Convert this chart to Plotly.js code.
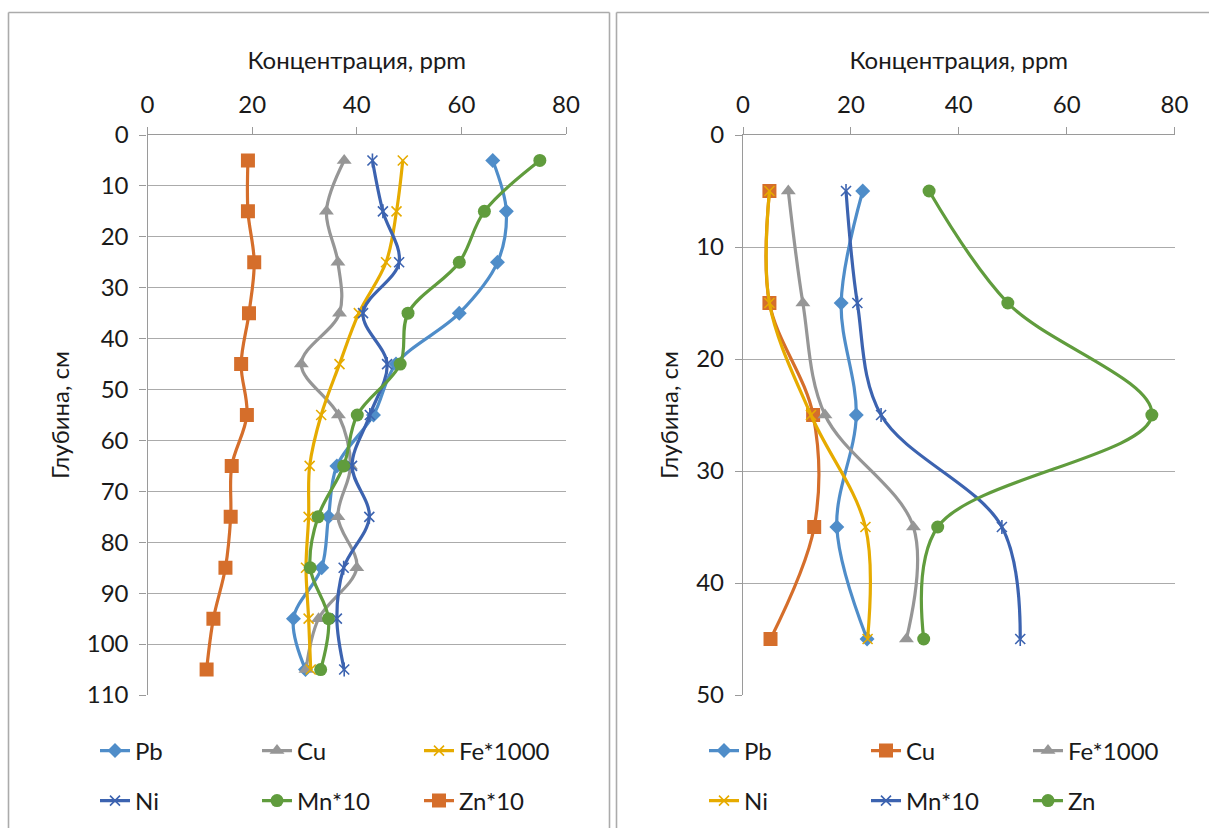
<!DOCTYPE html>
<html>
<head>
<meta charset="utf-8">
<script src="https://cdn.plot.ly/plotly-3.0.1.min.js"></script>
<style>
  html, body { margin: 0; padding: 0; background: #fff; }
  #chart { width: 1209px; height: 828px; }
</style>
</head>
<body>
<div id="chart"></div>
<script>
// ---- Профиль 1: глубина 5–105 см ----
const depthA = [5, 15, 25, 35, 45, 55, 65, 75, 85, 95, 105];
const pbA   = [66.0, 68.6, 66.9, 59.6, 47.5, 43.2, 36.2, 34.6, 33.3, 27.9, 30.2];
const cuA   = [37.6, 34.2, 36.4, 36.7, 29.4, 36.5, 38.8, 36.4, 40.0, 32.7, 30.3];
const feA   = [48.8, 47.6, 45.6, 40.4, 36.7, 33.2, 31.0, 30.8, 30.3, 30.8, 31.2];
const niA   = [43.0, 45.0, 48.1, 41.2, 45.8, 42.5, 39.1, 42.4, 37.5, 36.2, 37.6];
const mnA   = [75.0, 64.4, 59.6, 49.8, 48.3, 40.1, 37.5, 32.6, 31.1, 34.6, 33.1];
const znA   = [19.2, 19.2, 20.4, 19.4, 17.9, 19.0, 16.1, 15.9, 14.9, 12.6, 11.3];
const namesA = ['Pb', 'Cu', 'Fe*1000', 'Ni', 'Mn*10', 'Zn*10'];

// ---- Профиль 2: глубина 5–45 см ----
const depthB = [5, 15, 25, 35, 45];
const pbB   = [22.2, 18.2, 21.0, 17.4, 23.0];
const cuB   = [4.9, 4.9, 13.0, 13.2, 5.1];
const feB   = [8.4, 11.1, 15.2, 31.6, 30.3];
const niB   = [4.9, 4.9, 12.6, 22.7, 23.1];
const mnB   = [19.1, 21.2, 25.6, 48.0, 51.4];
const znB   = [34.5, 49.1, 75.8, 36.1, 33.5];
const namesB = ['Pb', 'Cu', 'Fe*1000', 'Ni', 'Mn*10', 'Zn'];

const xTitle = 'Концентрация, ppm';
const yTitle = 'Глубина, см';

// ---- styling ----
const W = 1209, H = 828;
const fx = p => p / W;
const fy = p => 1 - p / H;
const FONT = 'Lato, "Open Sans", sans-serif';
const TXT = '#1a1a1a';
const GRID = '#ababab';
const AXIS = '#9a9a9a';

const C = {
  blue:  '#4f8dc9',
  orange:'#d56e2b',
  gray:  '#969696',
  gold:  '#e6ab00',
  navy:  '#3c63b0',
  green: '#609c3d'
};

const STY = {
  diamond:  { symbol: 'diamond',  size: 11.5 },
  square:   { symbol: 'square',   size: 14 },
  triangle: { symbol: 'triangle-up', size: 13 },
  circle:   { symbol: 'circle',   size: 13 },
  cross:    { symbol: 'x-thin-open', size: 10, line: { width: 1.6 } },
  star:     { symbol: 'x-thin-open', size: 10, line: { width: 1.6 } }
};

function series(x, y, name, color, mk, xa, ya, legend) {
  const marker = Object.assign({ color: color }, JSON.parse(JSON.stringify(mk)));
  if (marker.line) marker.line.color = color;
  return {
    type: 'scatter', mode: 'lines+markers',
    x: x, y: y, name: name, xaxis: xa, yaxis: ya, legend: legend,
    line: { color: color, width: 3.2, shape: 'spline', smoothing: 1 },
    marker: marker,
    hoverinfo: 'x+y+name'
  };
}

// vertical stroke completing the six-armed star marker
function starStem(x, y, color, xa, ya) {
  return {
    type: 'scatter', mode: 'markers', x: x, y: y, xaxis: xa, yaxis: ya,
    showlegend: false, hoverinfo: 'skip',
    marker: { symbol: 'line-ns-open', size: 10, color: color, line: { color: color, width: 1.6 } }
  };
}

const traces = [
  series(pbA, depthA, namesA[0], C.blue,   STY.diamond,  'x', 'y', 'legend'),
  series(cuA, depthA, namesA[1], C.gray,   STY.triangle, 'x', 'y', 'legend'),
  series(feA, depthA, namesA[2], C.gold,   STY.cross,    'x', 'y', 'legend'),
  series(niA, depthA, namesA[3], C.navy,   STY.star,     'x', 'y', 'legend2'),
  starStem(niA, depthA, C.navy, 'x', 'y'),
  series(mnA, depthA, namesA[4], C.green,  STY.circle,   'x', 'y', 'legend2'),
  series(znA, depthA, namesA[5], C.orange, STY.square,   'x', 'y', 'legend2'),

  series(pbB, depthB, namesB[0], C.blue,   STY.diamond,  'x2', 'y2', 'legend3'),
  series(cuB, depthB, namesB[1], C.orange, STY.square,   'x2', 'y2', 'legend3'),
  series(feB, depthB, namesB[2], C.gray,   STY.triangle, 'x2', 'y2', 'legend3'),
  series(niB, depthB, namesB[3], C.gold,   STY.cross,    'x2', 'y2', 'legend4'),
  series(mnB, depthB, namesB[4], C.navy,   STY.star,     'x2', 'y2', 'legend4'),
  starStem(mnB, depthB, C.navy, 'x2', 'y2'),
  series(znB, depthB, namesB[5], C.green,  STY.circle,   'x2', 'y2', 'legend4')
];

function xAxis(domain, anchor) {
  return {
    domain: domain, anchor: anchor, side: 'top',
    range: [0, 80], tick0: 0, dtick: 20,
    showgrid: false, zeroline: false,
    showline: true, linecolor: AXIS, linewidth: 1.3,
    ticks: 'outside', ticklen: 7, tickcolor: AXIS, tickwidth: 1.3,
    tickfont: { family: FONT, size: 24, color: TXT },
    ticklabelstandoff: 4,
    title: { text: xTitle, font: { family: FONT, size: 24, color: TXT }, standoff: 12 },
    fixedrange: true
  };
}
function yAxis(domain, anchor, maxDepth) {
  return {
    domain: domain, anchor: anchor,
    range: [maxDepth, 0], tick0: 0, dtick: 10,
    showgrid: true, gridcolor: GRID, gridwidth: 1.3,
    zeroline: false,
    showline: true, linecolor: AXIS, linewidth: 1.3,
    ticks: 'outside', ticklen: 7, tickcolor: AXIS, tickwidth: 1.3,
    tickfont: { family: FONT, size: 24, color: TXT },
    ticklabelstandoff: 6,
    title: { text: yTitle, font: { family: FONT, size: 24, color: TXT }, standoff: 10 },
    fixedrange: true
  };
}

function legendRow(xPx, yPx) {
  return {
    orientation: 'h', x: fx(xPx), xanchor: 'left', y: fy(yPx), yanchor: 'middle',
    entrywidth: 117, entrywidthmode: 'pixels',
    font: { family: FONT, size: 24, color: TXT },
    bgcolor: 'rgba(0,0,0,0)', borderwidth: 0,
    itemclick: false, itemdoubleclick: false
  };
}

const plotTop = 135, plotBottom = 695;
const frame = { color: '#ababab', width: 1.6 };
const shapes = [
  { type: 'line', xref: 'paper', yref: 'paper', x0: fx(8.5), x1: fx(609.5), y0: fy(12.5), y1: fy(12.5), line: frame },
  { type: 'line', xref: 'paper', yref: 'paper', x0: fx(8.5), x1: fx(8.5), y0: fy(12.5), y1: 0, line: frame },
  { type: 'line', xref: 'paper', yref: 'paper', x0: fx(609.5), x1: fx(609.5), y0: fy(12.5), y1: 0, line: frame },
  { type: 'line', xref: 'paper', yref: 'paper', x0: fx(616.5), x1: 1, y0: fy(12.5), y1: fy(12.5), line: frame },
  { type: 'line', xref: 'paper', yref: 'paper', x0: fx(616.5), x1: fx(616.5), y0: fy(12.5), y1: 0, line: frame }
];

const layout = {
  width: W, height: H,
  margin: { l: 0, r: 0, t: 0, b: 0, pad: 0 },
  paper_bgcolor: '#ffffff', plot_bgcolor: '#ffffff',
  font: { family: FONT, size: 24, color: TXT },
  xaxis:  xAxis([fx(147.5), fx(566)], 'y'),
  yaxis:  yAxis([fy(plotBottom), fy(plotTop)], 'x', 110),
  xaxis2: xAxis([fx(743), fx(1174.5)], 'y2'),
  yaxis2: yAxis([fy(plotBottom), fy(plotTop)], 'x2', 50),
  legend:  legendRow(95, 751),
  legend2: legendRow(95, 801),
  legend3: legendRow(704, 751),
  legend4: legendRow(704, 801),
  shapes: shapes,
  hovermode: 'closest',
  showlegend: true
};

Plotly.newPlot('chart', traces, layout, { displayModeBar: false, staticPlot: false, responsive: false });
</script>
</body>
</html>
